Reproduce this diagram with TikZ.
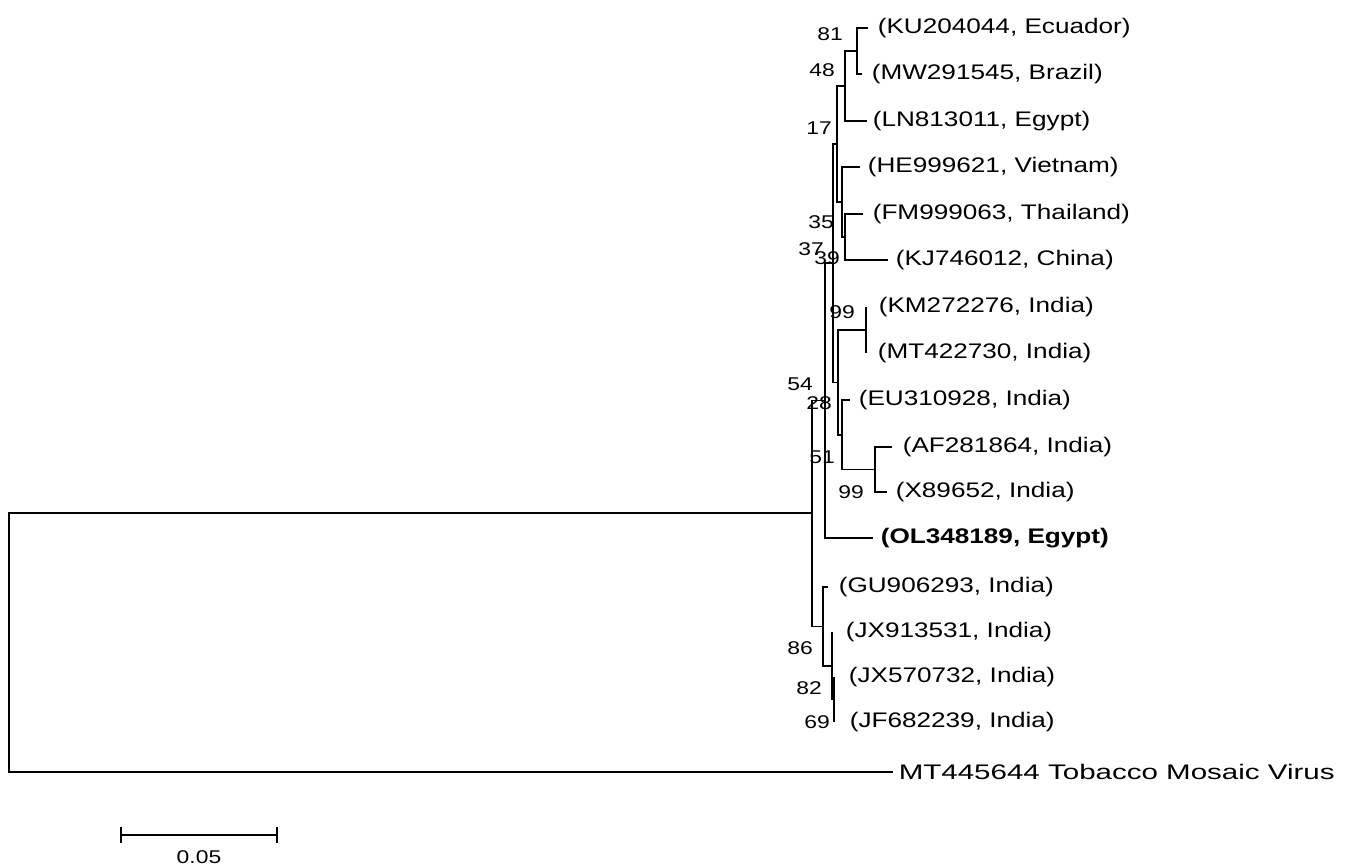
\documentclass[tikz,border=0pt]{standalone}
\usepackage{fontspec}
\setmainfont{Liberation Sans}[FakeStretch=1.24]
\newfontfamily\widefont{Liberation Sans}[FakeStretch=1.40]
\usetikzlibrary{positioning,arrows.meta}

\begin{document}
\begin{tikzpicture}[x=0.02cm,y=-0.02cm,line width=0.9pt,
  leaf/.style={anchor=west,inner sep=0pt,font=\fontsize{12}{14}\selectfont},
  boot/.style={inner sep=0pt,font=\fontsize{10.5}{12}\selectfont}]
  \useasboundingbox (0,0) rectangle (1346,867);
  % --- nodos internos: x = profundidad, y = media de los hijos ---
  \coordinate (nRoot) at (9,642.5);
  \coordinate (nA)  at (812,513);
  \coordinate (nB)  at (825,400.6);
  \coordinate (nC)  at (833,263.2);
  \coordinate (nD)  at (837,144);
  \coordinate (n48) at (845,86);
  \coordinate (n81) at (857,51);
  \coordinate (nE)  at (842,202);
  \coordinate (nH)  at (845,237);
  \coordinate (nG)  at (838,382.4);
  \coordinate (n99a) at (866,330);
  \coordinate (n51) at (842,434.75);
  \coordinate (n99b) at (875,469.5);
  \coordinate (nQ)  at (823,626.4);
  \coordinate (nS)  at (832,665.75);
  \coordinate (nT)  at (834,699.5);
  % --- extremos de las hojas ---
  \coordinate (eKU) at (868,28);   \coordinate (eMW) at (862,74);
  \coordinate (eLN) at (867,121);  \coordinate (eHE) at (860,167);
  \coordinate (eFM) at (863,214);  \coordinate (eKJ) at (888,260);
  \coordinate (eKM) at (866,307);  \coordinate (eMT) at (866,353);
  \coordinate (eEU) at (850,400);  \coordinate (eAF) at (892,447);
  \coordinate (eX)  at (887,492);  \coordinate (eOL) at (873,538);
  \coordinate (eGU) at (828,587);  \coordinate (eJXa) at (832,632);
  \coordinate (eJXb) at (834,677); \coordinate (eJF) at (834,722);
  \coordinate (eTMV) at (893,772);
  % --- ramas ---
  \draw (nRoot) |- (nA);  \draw (nRoot) |- (eTMV);
  \draw (nA) |- (nB);     \draw (nA) |- (nQ);
  \draw (nB) |- (nC);     \draw (nB) |- (eOL);
  \draw (nC) |- (nD);     \draw (nC) |- (nG);
  \draw (nD) |- (n48);    \draw (nD) |- (nE);
  \draw (n48) |- (n81);   \draw (n48) |- (eLN);
  \draw (n81) |- (eKU);   \draw (n81) |- (eMW);
  \draw (nE) |- (eHE);    \draw (nE) |- (nH);
  \draw (nH) |- (eFM);    \draw (nH) |- (eKJ);
  \draw (nG) |- (n99a);   \draw (nG) |- (n51);
  \draw (n99a) |- (eKM);  \draw (n99a) |- (eMT);
  \draw (n51) |- (eEU);   \draw (n51) |- (n99b);
  \draw (n99b) |- (eAF);  \draw (n99b) |- (eX);
  \draw (nQ) |- (eGU);    \draw (nQ) |- (nS);
  \draw (nS) |- (eJXa);   \draw (nS) |- (nT);
  \draw (nT) |- (eJXb);   \draw (nT) |- (eJF);
  % --- etiquetas de las hojas ---
  \node[leaf] (lKU) at (877,28)  {(KU204044, Ecuador)};
  \node[leaf] (lMW) at (871,74)  {(MW291545, Brazil)};
  \node[leaf] (lLN) at (872,121) {(LN813011, Egypt)};
  \node[leaf] (lHE) at (867,167) {(HE999621, Vietnam)};
  \node[leaf] (lFM) at (872,214) {(FM999063, Thailand)};
  \node[leaf] (lKJ) at (895,260) {(KJ746012, China)};
  \node[leaf] (lKM) at (878,307) {(KM272276, India)};
  \node[leaf] (lMT) at (877,353) {(MT422730, India)};
  \node[leaf] (lEU) at (858,400) {(EU310928, India)};
  \node[leaf] (lAF) at (902,447) {(AF281864, India)};
  \node[leaf] (lX)  at (895,492) {(X89652, India)};
  \node[leaf,font=\fontsize{12}{14}\selectfont\bfseries] (lOL) at (880,538) {(OL348189, Egypt)};
  \node[leaf] (lGU) at (838,587) {(GU906293, India)};
  \node[leaf] (lJXa) at (845,632) {(JX913531, India)};
  \node[leaf] (lJXb) at (848,677) {(JX570732, India)};
  \node[leaf] (lJF) at (849,722) {(JF682239, India)};
  \node[leaf,font=\fontsize{12}{14}\widefont] (lTMV) at (898,772) {MT445644 Tobacco Mosaic Virus};
  % --- valores bootstrap ---
  \node[boot] (b81) at (830,34)  {81};
  \node[boot] (b48) at (822,70)  {48};
  \node[boot] (b17) at (819,128) {17};
  \node[boot] (b35) at (821,222) {35};
  \node[boot] (b37) at (811,249) {37};
  \node[boot] (b39) at (827,258) {39};
  \node[boot] (b99a) at (842,312) {99};
  \node[boot] (b54) at (800,384) {54};
  \node[boot] (b28) at (819,403) {28};
  \node[boot] (b51) at (822,457) {51};
  \node[boot] (b99b) at (851,492) {99};
  \node[boot] (b86) at (800,648) {86};
  \node[boot] (b82) at (809,688) {82};
  \node[boot] (b69) at (817,722) {69};
  % --- escala ---
  \coordinate (sbL) at (120,835);
  \coordinate (sbR) at (278,835);
  \draw[{Bar[width=0.32cm]}-{Bar[width=0.32cm]}] (sbL) -- (sbR);
  \node[boot] (lScale) at (199,857) {0.05};
\end{tikzpicture}
\end{document}
